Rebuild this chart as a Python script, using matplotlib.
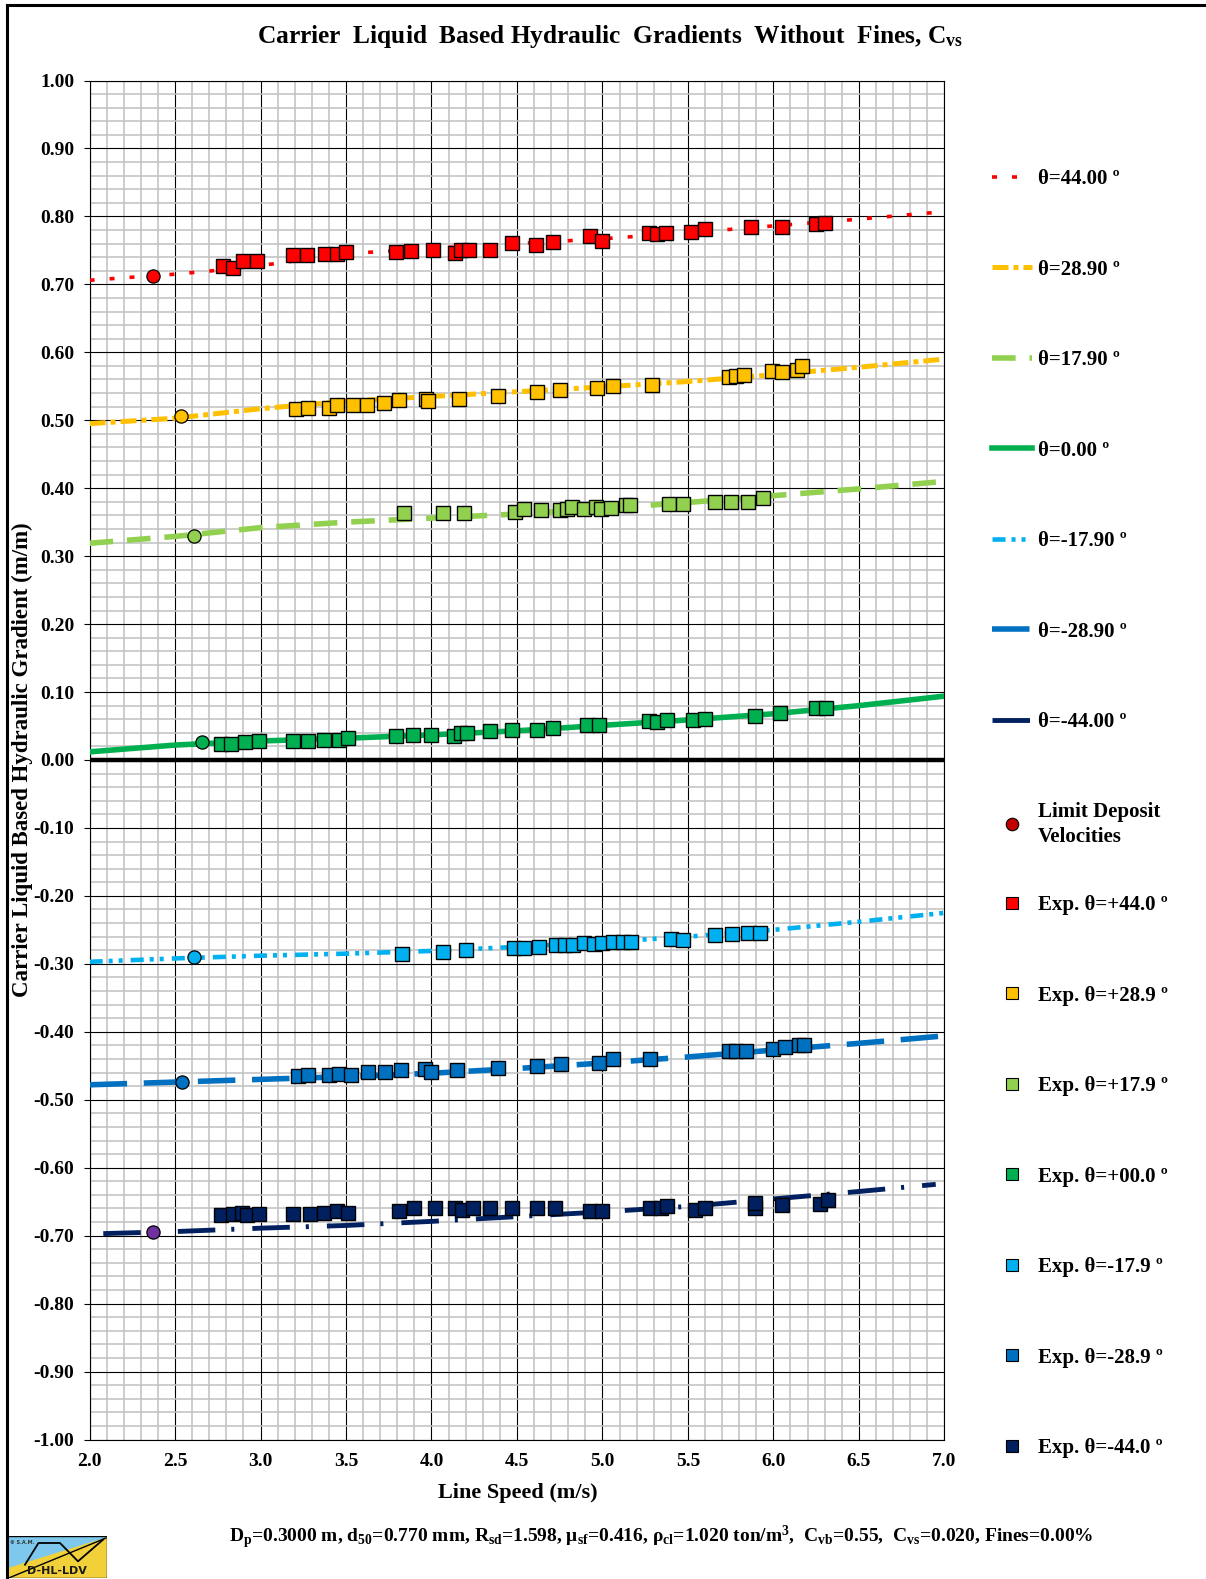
import matplotlib
matplotlib.use("Agg")
import matplotlib.pyplot as plt
import numpy as np
from matplotlib.lines import Line2D
from matplotlib.patches import Polygon, Rectangle
from matplotlib.ticker import MultipleLocator, FuncFormatter

plt.rcParams["font.family"] = ["Liberation Serif", "DejaVu Serif"]
plt.rcParams["font.weight"] = "bold"
plt.rcParams["mathtext.fontset"] = "custom"
plt.rcParams["mathtext.rm"] = "Liberation Serif:bold"
plt.rcParams["mathtext.it"] = "Liberation Serif:bold"
plt.rcParams["mathtext.bf"] = "Liberation Serif:bold"
plt.rcParams["lines.scale_dashes"] = False

# Beschriftungen
angle_labels = ["44.00", "28.90", "17.90", "0.00", "-17.90", "-28.90", "-44.00"]
exp_labels = ["+44.0", "+28.9", "+17.9", "+00.0", "-17.9", "-28.9", "-44.0"]
colors = ["#FF0000", "#FFC000", "#92D050", "#00B050", "#00B0F0", "#0070C0", "#002060"]
ldv_colors = ["#FF0000", "#FFC000", "#92D050", "#00B050", "#00B0F0", "#0070C0", "#7030A0"]

# Modellkurven
line_x = [2.0, 2.5, 3.0, 3.5, 4.0, 4.5, 5.0, 5.5, 6.0, 6.5, 7.0]
line_x44 = [2.0, 2.5, 2.72, 3.07, 3.5, 4.0, 4.5, 5.0, 5.5, 6.0, 6.5, 7.0]
line_y44 = [0.706, 0.715, 0.720, 0.730, 0.745, 0.753, 0.760, 0.767, 0.776, 0.786, 0.796, 0.807]
line_y29 = [0.495, 0.503, 0.517, 0.528, 0.535, 0.542, 0.549, 0.557, 0.567, 0.578, 0.590]
line_y18 = [0.319, 0.329, 0.342, 0.350, 0.356, 0.362, 0.370, 0.379, 0.389, 0.399, 0.410]
line_y0 = [0.012, 0.022, 0.028, 0.032, 0.037, 0.043, 0.051, 0.059, 0.068, 0.080, 0.094]
line_ym18 = [-0.297, -0.292, -0.288, -0.285, -0.281, -0.275, -0.268, -0.260, -0.250, -0.238, -0.225]
line_ym29 = [-0.478, -0.474, -0.470, -0.466, -0.461, -0.454, -0.446, -0.437, -0.427, -0.417, -0.406]
line_xm44 = [2.08, 2.5, 3.0, 3.5, 4.0, 4.5, 5.0, 5.5, 6.0, 6.5, 6.95]
line_ym44 = [-0.697, -0.694, -0.689, -0.685, -0.679, -0.672, -0.665, -0.657, -0.646, -0.635, -0.6245]

# Grenzablagerungsgeschwindigkeiten
ldv_x = [2.37, 2.535, 2.61, 2.66, 2.61, 2.54, 2.37]
ldv_y = [0.713, 0.506, 0.330, 0.026, -0.290, -0.474, -0.694]

# Messpunkte
exp_x44 = [2.78, 2.84, 2.90, 2.98, 3.19, 3.27, 3.38, 3.45, 3.50, 3.79, 3.88, 4.01, 4.14, 4.17, 4.22,
           4.34, 4.47, 4.61, 4.71, 4.93, 5.00, 5.27, 5.32, 5.37, 5.52, 5.60, 5.87, 6.05, 6.25, 6.30]
exp_y44 = [0.7265, 0.7245, 0.734, 0.734, 0.7435, 0.7435, 0.745, 0.745, 0.747, 0.747, 0.749, 0.751,
           0.7455, 0.751, 0.751, 0.751, 0.7605, 0.7585, 0.762, 0.7715, 0.764, 0.7755, 0.7735, 0.7755,
           0.7775, 0.781, 0.785, 0.785, 0.7885, 0.7905]
exp_x29 = [3.21, 3.28, 3.40, 3.45, 3.54, 3.62, 3.72, 3.81, 3.97, 3.98, 4.16, 4.39, 4.62, 4.75, 4.97,
           5.06, 5.29, 5.74, 5.78, 5.83, 5.99, 6.05, 6.14, 6.17]
exp_y29 = [0.517, 0.518, 0.518, 0.522, 0.522, 0.522, 0.526, 0.530, 0.531, 0.528, 0.531, 0.535, 0.541,
           0.5445, 0.548, 0.550, 0.552, 0.563, 0.565, 0.567, 0.572, 0.571, 0.574, 0.580]
exp_x18 = [3.84, 4.07, 4.19, 4.49, 4.54, 4.64, 4.75, 4.79, 4.82, 4.89, 4.96, 4.99, 5.05, 5.14, 5.16,
           5.39, 5.47, 5.66, 5.75, 5.85, 5.94]
exp_y18 = [0.3634, 0.3634, 0.3634, 0.3653, 0.369, 0.368, 0.3673, 0.3698, 0.373, 0.369, 0.372, 0.369,
           0.3713, 0.375, 0.375, 0.377, 0.377, 0.380, 0.380, 0.380, 0.386]
exp_x0 = [2.77, 2.83, 2.91, 2.99, 3.19, 3.28, 3.37, 3.46, 3.51, 3.79, 3.89, 4.00, 4.13, 4.17, 4.21,
          4.34, 4.47, 4.62, 4.71, 4.91, 4.98, 5.27, 5.32, 5.38, 5.53, 5.60, 5.89, 6.04, 6.25, 6.31]
exp_y0 = [0.024, 0.024, 0.026, 0.0275, 0.0275, 0.0275, 0.0295, 0.0295, 0.0325, 0.035, 0.0365, 0.0365,
          0.036, 0.040, 0.040, 0.0425, 0.044, 0.044, 0.0475, 0.052, 0.052, 0.057, 0.0555, 0.0595,
          0.0595, 0.061, 0.065, 0.0685, 0.076, 0.076]
exp_xm18 = [3.83, 4.07, 4.20, 4.48, 4.54, 4.63, 4.73, 4.78, 4.83, 4.89, 4.95, 5.00, 5.06, 5.12, 5.17,
            5.40, 5.47, 5.66, 5.76, 5.85, 5.92]
exp_ym18 = [-0.286, -0.282, -0.280, -0.2766, -0.2766, -0.2746, -0.2727, -0.2727, -0.2727, -0.2693,
            -0.2707, -0.2693, -0.2673, -0.2673, -0.2673, -0.2634, -0.2654, -0.258, -0.256, -0.254, -0.254]
exp_xm29 = [3.22, 3.28, 3.40, 3.46, 3.53, 3.63, 3.73, 3.82, 3.96, 4.00, 4.15, 4.39, 4.62, 4.76, 4.98,
            5.06, 5.28, 5.74, 5.78, 5.84, 6.00, 6.07, 6.15, 6.18]
exp_ym29 = [-0.465, -0.4634, -0.4634, -0.462, -0.463, -0.4595, -0.4595, -0.4566, -0.455, -0.459,
            -0.4566, -0.453, -0.450, -0.4473, -0.4454, -0.440, -0.440, -0.4288, -0.4288, -0.4288,
            -0.426, -0.4224, -0.420, -0.420]
exp_xm44 = [2.77, 2.84, 2.89, 2.92, 2.99, 3.19, 3.29, 3.37, 3.45, 3.51, 3.81, 3.90, 4.02, 4.14, 4.18,
            4.24, 4.34, 4.47, 4.62, 4.72, 4.93, 5.00, 5.28, 5.34, 5.38, 5.54, 5.60, 5.89, 5.89, 6.05,
            6.27, 6.32]
exp_ym44 = [-0.6696, -0.668, -0.666, -0.6696, -0.668, -0.668, -0.668, -0.666, -0.6637, -0.666, -0.664,
            -0.660, -0.659, -0.659, -0.6623, -0.660, -0.659, -0.660, -0.659, -0.660, -0.664, -0.664,
            -0.659, -0.660, -0.657, -0.6623, -0.659, -0.659, -0.6515, -0.655, -0.653, -0.6475]

lines_x = [line_x44, line_x, line_x, line_x, line_x, line_x, line_xm44]
lines_y = [line_y44, line_y29, line_y18, line_y0, line_ym18, line_ym29, line_ym44]
exps_x = [exp_x44, exp_x29, exp_x18, exp_x0, exp_xm18, exp_xm29, exp_xm44]
exps_y = [exp_y44, exp_y29, exp_y18, exp_y0, exp_ym18, exp_ym29, exp_ym44]

# Linienstile (Strichmuster in pt), Linienbreite
styles = [
    (2.6, (0, (3.6, 10.8))),
    (3.6, (0, (11.5, 3.6, 3.6, 3.6))),
    (4.0, (0, (17, 10))),
    (4.0, "solid"),
    (3.3, (0, (9.4, 4.3, 2.9, 4.3, 2.9, 5.8))),
    (4.0, (0, (27, 12))),
    (3.5, (0, (27, 11.5, 2.2, 13))),
]

W, H = 1206, 1579
fig = plt.figure(figsize=(W / 100, H / 100), dpi=100)
ax = fig.add_axes([89.6 / W, 1 - 1439.5 / H, (944.3 - 89.6) / W, (1439.5 - 80.5) / H])

line_handles = []
for i in range(7):
    lw, ls = styles[i]
    (ln,) = ax.plot(lines_x[i], lines_y[i], color=colors[i], lw=lw, linestyle=ls,
                    dash_capstyle="butt", zorder=3)
    line_handles.append(ln)
    ax.plot(exps_x[i], exps_y[i], linestyle="none", marker="s", markersize=10.5,
            markerfacecolor=colors[i], markeredgecolor="black", markeredgewidth=1.0, zorder=4)
    ax.plot(ldv_x[i], ldv_y[i], linestyle="none", marker="o", markersize=9.5,
            markerfacecolor=ldv_colors[i], markeredgecolor="black", markeredgewidth=0.9, zorder=5)

ax.axhline(0, color="black", lw=3.2, zorder=2.5)

ax.set_xlim(2.0, 7.0)
ax.set_ylim(-1.0, 1.0)
ax.xaxis.set_major_locator(MultipleLocator(0.5))
ax.xaxis.set_minor_locator(MultipleLocator(0.1))
ax.yaxis.set_major_locator(MultipleLocator(0.1))
ax.yaxis.set_minor_locator(MultipleLocator(0.02))
ax.yaxis.set_major_formatter(FuncFormatter(lambda v, p: f"{round(v, 2) + 0.0:.2f}"))
ax.xaxis.set_major_formatter(FuncFormatter(lambda v, p: f"{v:.1f}"))
ax.grid(which="minor", color="#C0C0C0", lw=1.1)
ax.grid(which="major", color="black", lw=0.8)
ax.set_axisbelow(True)
ax.tick_params(which="minor", length=0)
ax.tick_params(axis="y", which="major", direction="out", length=4, width=0.8, labelsize=14, pad=7)
ax.tick_params(axis="x", which="major", length=0, labelsize=14, pad=10)
for s in ax.spines.values():
    s.set_linewidth(0.8)
    s.set_color("black")

# Legenden
leg_kw = dict(loc="upper left", frameon=False, fontsize=15, handlelength=1.92, handletextpad=0.29,
              borderpad=0, borderaxespad=0)
fig.legend(handles=line_handles, labels=[f"θ={a} º" for a in angle_labels],
           bbox_to_anchor=(991.6 / W, 1 - 169 / H), labelspacing=3.385, **leg_kw)
ldv_proxy = Line2D([], [], linestyle="none", marker="o", markersize=9, markerfacecolor="#C00000",
                   markeredgecolor="black", markeredgewidth=0.8)
leg_ldv = fig.legend(handles=[ldv_proxy], labels=["Limit Deposit\nVelocities"],
                     bbox_to_anchor=(991.6 / W, 1 - 802 / H), **leg_kw)
for t in leg_ldv.get_texts():
    t.set_linespacing(1.3)
exp_proxies = [Line2D([], [], linestyle="none", marker="s", markersize=8.5, markerfacecolor=c,
                      markeredgecolor="black", markeredgewidth=0.8) for c in colors]
fig.legend(handles=exp_proxies, labels=[f"Exp. θ={e} º" for e in exp_labels],
           bbox_to_anchor=(991.6 / W, 1 - 895 / H), labelspacing=3.385, **leg_kw)

# Texte
fig.text(610 / W, 1 - 36 / H,
         "Carrier  Liquid  Based Hydraulic  Gradients  Without  Fines, C$_{\\mathrm{vs}}$",
         ha="center", va="center", fontsize=18.3)
fig.text(22 / W, 1 - 760 / H, "Carrier Liquid Based Hydraulic Gradient (m/m)",
         rotation=90, ha="center", va="center", fontsize=16.5)
fig.text(517.5 / W, 1 - 1493 / H, "Line Speed (m/s)", ha="center", va="center", fontsize=16)
fig.text(661 / W, 1 - 1537 / H,
         "D$_{\\mathrm{p}}$=0.3000 m, d$_{\\mathrm{50}}$=0.770 mm, R$_{\\mathrm{sd}}$=1.598, "
         "μ$_{\\mathrm{sf}}$=0.416, ρ$_{\\mathrm{cl}}$=1.020 ton/m$^{\\mathrm{3}}$,  "
         "C$_{\\mathrm{vb}}$=0.55,  C$_{\\mathrm{vs}}$=0.020, Fines=0.00%",
         ha="center", va="center", fontsize=14)

# Rahmen
fig.add_artist(Line2D([7 / W, 7 / W], [0, 1 - 5 / H], transform=fig.transFigure, color="black", lw=2.2))
fig.add_artist(Line2D([7 / W, 1], [1 - 5 / H, 1 - 5 / H], transform=fig.transFigure, color="black", lw=2.2))

# Logo
lg = fig.add_axes([7 / W, 1 / H, 100 / W, 42 / H])
lg.set_xlim(0, 100)
lg.set_ylim(0, 42)
lg.axis("off")
lg.add_patch(Polygon([(0, 9), (0, 42), (100, 42), (100, 40)], closed=True, color="#7EC8EE"))
lg.add_patch(Polygon([(0, 0), (0, 9), (100, 40), (100, 0)], closed=True, color="#F2D03A"))
lg.add_patch(Rectangle((0, 0), 100, 42, fill=False, edgecolor="black", lw=1.0))
lg.plot([1.7, 99], [0, 40], color="black", lw=1.0)
lg.plot([18, 31.5, 53, 71, 96], [13.3, 35, 35, 16.7, 38.3], color="black", lw=1.3)
lg.text(50, 7.5, "D-HL-LDV", ha="center", va="center", fontsize=8, family="DejaVu Sans",
        weight="bold", color="#1A1A1A")
lg.text(3, 36, "© S.A.M.", ha="left", va="center", fontsize=3.5, family="DejaVu Sans", color="#333333")

fig.savefig("out.png", dpi=100)
